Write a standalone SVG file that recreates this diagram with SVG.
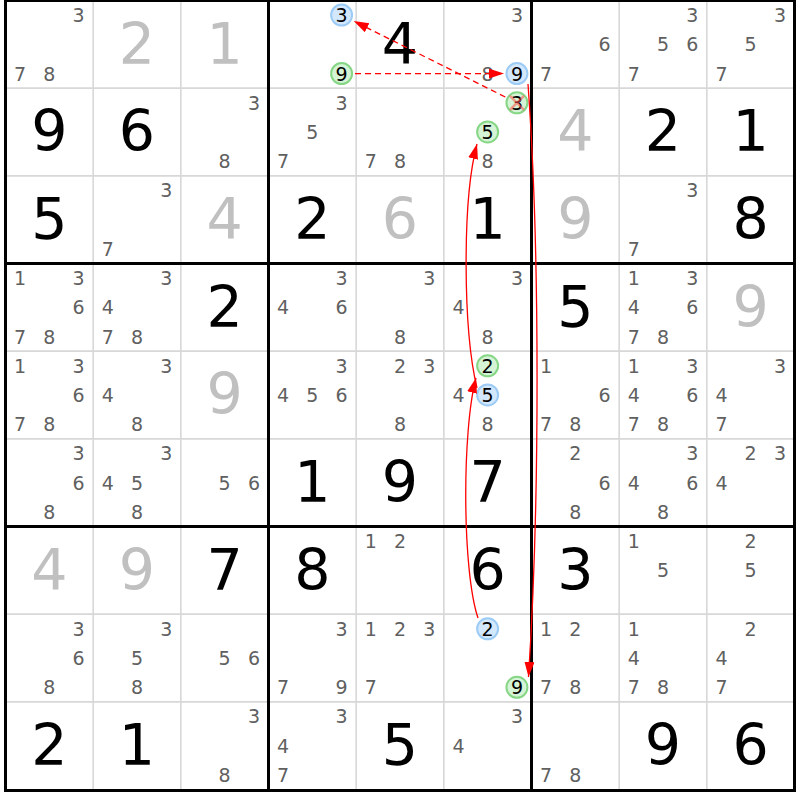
<svg xmlns="http://www.w3.org/2000/svg" width="800" height="800" viewBox="0 0 800 800">
<defs>
<style>
text{font-family:"DejaVu Sans","Liberation Sans",sans-serif;text-anchor:middle}
.c{font-size:19px;fill:#606060}
.k{font-size:19px;fill:#000}
.g{font-size:57px;fill:#000}
.v{font-size:57px;fill:#c0c0c0}
.hb{fill:#d3e8fc;stroke:#9ccbf5;stroke-width:2}
.hg{fill:#d5f3d5;stroke:#86d686;stroke-width:2}
.thin{stroke:#d8d8d8;stroke-width:1.6;fill:none}
.thick{stroke:#000;stroke-width:3;fill:none}
.arr{stroke:#ff0000;stroke-width:1.3;fill:none}
.dash{stroke-dasharray:6 4}
.x{stroke:#ff5050;stroke-width:2.5;opacity:0.55}
</style>
<marker id="ah" markerUnits="userSpaceOnUse" markerWidth="16" markerHeight="12" refX="15" refY="5" orient="auto">
<path d="M0,0 L15,5 L0,10 z" fill="#ff0000"/>
</marker>
</defs>
<rect x="0" y="0" width="800" height="800" fill="#fff"/>
<g id="grid">
<path class="thin" d="M93.17,0.5V790.5M180.83,0.5V790.5M356.17,0.5V790.5M443.83,0.5V790.5M619.17,0.5V790.5M706.83,0.5V790.5M5.5,88.17H794.5M5.5,175.83H794.5M5.5,351.17H794.5M5.5,438.83H794.5M5.5,614.17H794.5M5.5,701.83H794.5"/>
<path class="thick" d="M268.5,0.5V790.5M531.5,0.5V790.5M5.5,263.5H794.5M5.5,526.5H794.5"/>
<rect class="thick" x="5.5" y="0.5" width="789" height="790"/>
</g>
<g id="cells">
<g id="r1c1" transform="translate(5.5,0.5)"><text class="c" x="73.1" y="21.6">3</text><text class="c" x="14.6" y="80.1">7</text><text class="c" x="43.8" y="80.1">8</text></g>
<g id="r1c2" transform="translate(93.17,0.5)"><text class="v" x="43.8" y="63">2</text></g>
<g id="r1c3" transform="translate(180.83,0.5)"><text class="v" x="43.8" y="63">1</text></g>
<g id="r1c4" transform="translate(268.5,0.5)"><circle class="hb" cx="73.1" cy="14.6" r="10.5"/><text class="k" x="73.1" y="21.6">3</text><circle class="hg" cx="73.1" cy="73.1" r="10.5"/><text class="k" x="73.1" y="80.1">9</text></g>
<g id="r1c5" transform="translate(356.17,0.5)"><text class="g" x="43.8" y="63">4</text></g>
<g id="r1c6" transform="translate(443.83,0.5)"><text class="c" x="73.1" y="21.6">3</text><text class="c" x="43.8" y="80.1">8</text><circle class="hb" cx="73.1" cy="73.1" r="10.5"/><text class="k" x="73.1" y="80.1">9</text></g>
<g id="r1c7" transform="translate(531.5,0.5)"><text class="c" x="73.1" y="50.8">6</text><text class="c" x="14.6" y="80.1">7</text></g>
<g id="r1c8" transform="translate(619.17,0.5)"><text class="c" x="73.1" y="21.6">3</text><text class="c" x="43.8" y="50.8">5</text><text class="c" x="73.1" y="50.8">6</text><text class="c" x="14.6" y="80.1">7</text></g>
<g id="r1c9" transform="translate(706.83,0.5)"><text class="c" x="73.1" y="21.6">3</text><text class="c" x="43.8" y="50.8">5</text><text class="c" x="14.6" y="80.1">7</text></g>

<g id="r2c1" transform="translate(5.5,88.17)"><text class="g" x="43.8" y="63">9</text></g>
<g id="r2c2" transform="translate(93.17,88.17)"><text class="g" x="43.8" y="63">6</text></g>
<g id="r2c3" transform="translate(180.83,88.17)"><text class="c" x="73.1" y="21.6">3</text><text class="c" x="43.8" y="80.1">8</text></g>
<g id="r2c4" transform="translate(268.5,88.17)"><text class="c" x="73.1" y="21.6">3</text><text class="c" x="43.8" y="50.8">5</text><text class="c" x="14.6" y="80.1">7</text></g>
<g id="r2c5" transform="translate(356.17,88.17)"><text class="c" x="14.6" y="80.1">7</text><text class="c" x="43.8" y="80.1">8</text></g>
<g id="r2c6" transform="translate(443.83,88.17)"><circle class="hg" cx="73.1" cy="14.6" r="10.5"/><text class="k" x="73.1" y="21.6">3</text><path class="x" d="M66.1,7.6L80.1,21.6M80.1,7.6L66.1,21.6"/><circle class="hg" cx="43.8" cy="43.8" r="10.5"/><text class="k" x="43.8" y="50.8">5</text><text class="c" x="43.8" y="80.1">8</text></g>
<g id="r2c7" transform="translate(531.5,88.17)"><text class="v" x="43.8" y="63">4</text></g>
<g id="r2c8" transform="translate(619.17,88.17)"><text class="g" x="43.8" y="63">2</text></g>
<g id="r2c9" transform="translate(706.83,88.17)"><text class="g" x="43.8" y="63">1</text></g>

<g id="r3c1" transform="translate(5.5,175.83)"><text class="g" x="43.8" y="63">5</text></g>
<g id="r3c2" transform="translate(93.17,175.83)"><text class="c" x="73.1" y="21.6">3</text><text class="c" x="14.6" y="80.1">7</text></g>
<g id="r3c3" transform="translate(180.83,175.83)"><text class="v" x="43.8" y="63">4</text></g>
<g id="r3c4" transform="translate(268.5,175.83)"><text class="g" x="43.8" y="63">2</text></g>
<g id="r3c5" transform="translate(356.17,175.83)"><text class="v" x="43.8" y="63">6</text></g>
<g id="r3c6" transform="translate(443.83,175.83)"><text class="g" x="43.8" y="63">1</text></g>
<g id="r3c7" transform="translate(531.5,175.83)"><text class="v" x="43.8" y="63">9</text></g>
<g id="r3c8" transform="translate(619.17,175.83)"><text class="c" x="73.1" y="21.6">3</text><text class="c" x="14.6" y="80.1">7</text></g>
<g id="r3c9" transform="translate(706.83,175.83)"><text class="g" x="43.8" y="63">8</text></g>

<g id="r4c1" transform="translate(5.5,263.5)"><text class="c" x="14.6" y="21.6">1</text><text class="c" x="73.1" y="21.6">3</text><text class="c" x="73.1" y="50.8">6</text><text class="c" x="14.6" y="80.1">7</text><text class="c" x="43.8" y="80.1">8</text></g>
<g id="r4c2" transform="translate(93.17,263.5)"><text class="c" x="73.1" y="21.6">3</text><text class="c" x="14.6" y="50.8">4</text><text class="c" x="14.6" y="80.1">7</text><text class="c" x="43.8" y="80.1">8</text></g>
<g id="r4c3" transform="translate(180.83,263.5)"><text class="g" x="43.8" y="63">2</text></g>
<g id="r4c4" transform="translate(268.5,263.5)"><text class="c" x="73.1" y="21.6">3</text><text class="c" x="14.6" y="50.8">4</text><text class="c" x="73.1" y="50.8">6</text></g>
<g id="r4c5" transform="translate(356.17,263.5)"><text class="c" x="73.1" y="21.6">3</text><text class="c" x="43.8" y="80.1">8</text></g>
<g id="r4c6" transform="translate(443.83,263.5)"><text class="c" x="73.1" y="21.6">3</text><text class="c" x="14.6" y="50.8">4</text><text class="c" x="43.8" y="80.1">8</text></g>
<g id="r4c7" transform="translate(531.5,263.5)"><text class="g" x="43.8" y="63">5</text></g>
<g id="r4c8" transform="translate(619.17,263.5)"><text class="c" x="14.6" y="21.6">1</text><text class="c" x="73.1" y="21.6">3</text><text class="c" x="14.6" y="50.8">4</text><text class="c" x="73.1" y="50.8">6</text><text class="c" x="14.6" y="80.1">7</text><text class="c" x="43.8" y="80.1">8</text></g>
<g id="r4c9" transform="translate(706.83,263.5)"><text class="v" x="43.8" y="63">9</text></g>

<g id="r5c1" transform="translate(5.5,351.17)"><text class="c" x="14.6" y="21.6">1</text><text class="c" x="73.1" y="21.6">3</text><text class="c" x="73.1" y="50.8">6</text><text class="c" x="14.6" y="80.1">7</text><text class="c" x="43.8" y="80.1">8</text></g>
<g id="r5c2" transform="translate(93.17,351.17)"><text class="c" x="73.1" y="21.6">3</text><text class="c" x="14.6" y="50.8">4</text><text class="c" x="43.8" y="80.1">8</text></g>
<g id="r5c3" transform="translate(180.83,351.17)"><text class="v" x="43.8" y="63">9</text></g>
<g id="r5c4" transform="translate(268.5,351.17)"><text class="c" x="73.1" y="21.6">3</text><text class="c" x="14.6" y="50.8">4</text><text class="c" x="43.8" y="50.8">5</text><text class="c" x="73.1" y="50.8">6</text></g>
<g id="r5c5" transform="translate(356.17,351.17)"><text class="c" x="43.8" y="21.6">2</text><text class="c" x="73.1" y="21.6">3</text><text class="c" x="43.8" y="80.1">8</text></g>
<g id="r5c6" transform="translate(443.83,351.17)"><circle class="hg" cx="43.8" cy="14.6" r="10.5"/><text class="k" x="43.8" y="21.6">2</text><text class="c" x="14.6" y="50.8">4</text><circle class="hb" cx="43.8" cy="43.8" r="10.5"/><text class="k" x="43.8" y="50.8">5</text><text class="c" x="43.8" y="80.1">8</text></g>
<g id="r5c7" transform="translate(531.5,351.17)"><text class="c" x="14.6" y="21.6">1</text><text class="c" x="73.1" y="50.8">6</text><text class="c" x="14.6" y="80.1">7</text><text class="c" x="43.8" y="80.1">8</text></g>
<g id="r5c8" transform="translate(619.17,351.17)"><text class="c" x="14.6" y="21.6">1</text><text class="c" x="73.1" y="21.6">3</text><text class="c" x="14.6" y="50.8">4</text><text class="c" x="73.1" y="50.8">6</text><text class="c" x="14.6" y="80.1">7</text><text class="c" x="43.8" y="80.1">8</text></g>
<g id="r5c9" transform="translate(706.83,351.17)"><text class="c" x="73.1" y="21.6">3</text><text class="c" x="14.6" y="50.8">4</text><text class="c" x="14.6" y="80.1">7</text></g>

<g id="r6c1" transform="translate(5.5,438.83)"><text class="c" x="73.1" y="21.6">3</text><text class="c" x="73.1" y="50.8">6</text><text class="c" x="43.8" y="80.1">8</text></g>
<g id="r6c2" transform="translate(93.17,438.83)"><text class="c" x="73.1" y="21.6">3</text><text class="c" x="14.6" y="50.8">4</text><text class="c" x="43.8" y="50.8">5</text><text class="c" x="43.8" y="80.1">8</text></g>
<g id="r6c3" transform="translate(180.83,438.83)"><text class="c" x="43.8" y="50.8">5</text><text class="c" x="73.1" y="50.8">6</text></g>
<g id="r6c4" transform="translate(268.5,438.83)"><text class="g" x="43.8" y="63">1</text></g>
<g id="r6c5" transform="translate(356.17,438.83)"><text class="g" x="43.8" y="63">9</text></g>
<g id="r6c6" transform="translate(443.83,438.83)"><text class="g" x="43.8" y="63">7</text></g>
<g id="r6c7" transform="translate(531.5,438.83)"><text class="c" x="43.8" y="21.6">2</text><text class="c" x="73.1" y="50.8">6</text><text class="c" x="43.8" y="80.1">8</text></g>
<g id="r6c8" transform="translate(619.17,438.83)"><text class="c" x="73.1" y="21.6">3</text><text class="c" x="14.6" y="50.8">4</text><text class="c" x="73.1" y="50.8">6</text><text class="c" x="43.8" y="80.1">8</text></g>
<g id="r6c9" transform="translate(706.83,438.83)"><text class="c" x="43.8" y="21.6">2</text><text class="c" x="73.1" y="21.6">3</text><text class="c" x="14.6" y="50.8">4</text></g>

<g id="r7c1" transform="translate(5.5,526.5)"><text class="v" x="43.8" y="63">4</text></g>
<g id="r7c2" transform="translate(93.17,526.5)"><text class="v" x="43.8" y="63">9</text></g>
<g id="r7c3" transform="translate(180.83,526.5)"><text class="g" x="43.8" y="63">7</text></g>
<g id="r7c4" transform="translate(268.5,526.5)"><text class="g" x="43.8" y="63">8</text></g>
<g id="r7c5" transform="translate(356.17,526.5)"><text class="c" x="14.6" y="21.6">1</text><text class="c" x="43.8" y="21.6">2</text></g>
<g id="r7c6" transform="translate(443.83,526.5)"><text class="g" x="43.8" y="63">6</text></g>
<g id="r7c7" transform="translate(531.5,526.5)"><text class="g" x="43.8" y="63">3</text></g>
<g id="r7c8" transform="translate(619.17,526.5)"><text class="c" x="14.6" y="21.6">1</text><text class="c" x="43.8" y="50.8">5</text></g>
<g id="r7c9" transform="translate(706.83,526.5)"><text class="c" x="43.8" y="21.6">2</text><text class="c" x="43.8" y="50.8">5</text></g>

<g id="r8c1" transform="translate(5.5,614.17)"><text class="c" x="73.1" y="21.6">3</text><text class="c" x="73.1" y="50.8">6</text><text class="c" x="43.8" y="80.1">8</text></g>
<g id="r8c2" transform="translate(93.17,614.17)"><text class="c" x="73.1" y="21.6">3</text><text class="c" x="43.8" y="50.8">5</text><text class="c" x="43.8" y="80.1">8</text></g>
<g id="r8c3" transform="translate(180.83,614.17)"><text class="c" x="43.8" y="50.8">5</text><text class="c" x="73.1" y="50.8">6</text></g>
<g id="r8c4" transform="translate(268.5,614.17)"><text class="c" x="73.1" y="21.6">3</text><text class="c" x="14.6" y="80.1">7</text><text class="c" x="73.1" y="80.1">9</text></g>
<g id="r8c5" transform="translate(356.17,614.17)"><text class="c" x="14.6" y="21.6">1</text><text class="c" x="43.8" y="21.6">2</text><text class="c" x="73.1" y="21.6">3</text><text class="c" x="14.6" y="80.1">7</text></g>
<g id="r8c6" transform="translate(443.83,614.17)"><circle class="hb" cx="43.8" cy="14.6" r="10.5"/><text class="k" x="43.8" y="21.6">2</text><circle class="hg" cx="73.1" cy="73.1" r="10.5"/><text class="k" x="73.1" y="80.1">9</text></g>
<g id="r8c7" transform="translate(531.5,614.17)"><text class="c" x="14.6" y="21.6">1</text><text class="c" x="43.8" y="21.6">2</text><text class="c" x="14.6" y="80.1">7</text><text class="c" x="43.8" y="80.1">8</text></g>
<g id="r8c8" transform="translate(619.17,614.17)"><text class="c" x="14.6" y="21.6">1</text><text class="c" x="14.6" y="50.8">4</text><text class="c" x="14.6" y="80.1">7</text><text class="c" x="43.8" y="80.1">8</text></g>
<g id="r8c9" transform="translate(706.83,614.17)"><text class="c" x="43.8" y="21.6">2</text><text class="c" x="14.6" y="50.8">4</text><text class="c" x="14.6" y="80.1">7</text></g>

<g id="r9c1" transform="translate(5.5,701.83)"><text class="g" x="43.8" y="63">2</text></g>
<g id="r9c2" transform="translate(93.17,701.83)"><text class="g" x="43.8" y="63">1</text></g>
<g id="r9c3" transform="translate(180.83,701.83)"><text class="c" x="73.1" y="21.6">3</text><text class="c" x="43.8" y="80.1">8</text></g>
<g id="r9c4" transform="translate(268.5,701.83)"><text class="c" x="73.1" y="21.6">3</text><text class="c" x="14.6" y="50.8">4</text><text class="c" x="14.6" y="80.1">7</text></g>
<g id="r9c5" transform="translate(356.17,701.83)"><text class="g" x="43.8" y="63">5</text></g>
<g id="r9c6" transform="translate(443.83,701.83)"><text class="c" x="73.1" y="21.6">3</text><text class="c" x="14.6" y="50.8">4</text></g>
<g id="r9c7" transform="translate(531.5,701.83)"><text class="c" x="14.6" y="80.1">7</text><text class="c" x="43.8" y="80.1">8</text></g>
<g id="r9c8" transform="translate(619.17,701.83)"><text class="g" x="43.8" y="63">9</text></g>
<g id="r9c9" transform="translate(706.83,701.83)"><text class="g" x="43.8" y="63">6</text></g>
</g>
<g id="connectors">
<path class="arr dash" marker-end="url(#ah)" d="M355,73.6 L504,73.6"/>
<path class="arr dash" marker-end="url(#ah)" d="M505.3,97 L353.7,21.1"/>
<path class="arr" marker-end="url(#ah)" d="M528,84 C540,250 540,500 528.5,677"/>
<path class="arr" marker-end="url(#ah)" d="M478,618 C462,570 462,430 476,378"/>
<path class="arr" marker-end="url(#ah)" d="M477,388 C463,330 462,200 477,144"/>
</g>
</svg>
